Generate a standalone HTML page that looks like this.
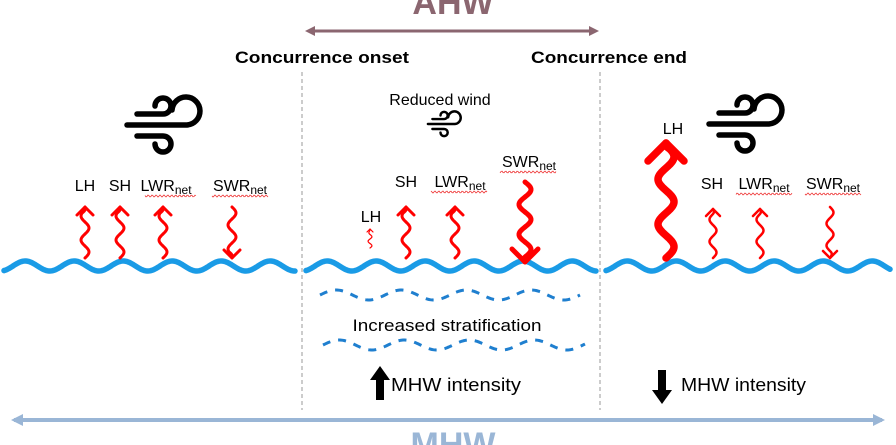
<!DOCTYPE html>
<html><head><meta charset="utf-8"><style>
html,body{margin:0;padding:0;background:#fff;width:896px;height:445px;overflow:hidden}
svg{display:block}
text{font-family:"Liberation Sans",sans-serif}
</style></head><body>
<svg id="s" width="896" height="445" viewBox="0 0 896 445" xmlns="http://www.w3.org/2000/svg">
<defs>
<marker id="ah" markerWidth="10" markerHeight="10" refX="7" refY="5" orient="auto" markerUnits="userSpaceOnUse"><path d="M0,0 L10,5 L0,10 z" fill="#8b6670"/></marker>
<marker id="ah2" markerWidth="12" markerHeight="12" refX="9" refY="6" orient="auto" markerUnits="userSpaceOnUse"><path d="M0,0 L12,6 L0,12 z" fill="#9ab6d6"/></marker>
<g id="wind"><path d="M-38,0 H22 A14,14 0 1 0 7,-15 M-28,-11 H-2 A8,8 0 1 0 -10,-19 M-28,11 H-2 A8,8 0 1 1 -10,19" fill="none" stroke="#000" stroke-width="5.5" stroke-linecap="round"/></g>
</defs>
<text x="453" y="14" text-anchor="middle" font-size="34" font-weight="bold" fill="#8b6670">AHW</text>
<line x1="308" y1="31" x2="596" y2="31" stroke="#8b6670" stroke-width="3" marker-end="url(#ah)"/>
<line x1="596" y1="31" x2="308" y2="31" stroke="#8b6670" stroke-width="3" marker-end="url(#ah)"/>
<text x="322" y="63" text-anchor="middle" font-size="17" font-weight="bold" textLength="174" lengthAdjust="spacingAndGlyphs">Concurrence onset</text>
<text x="609" y="63" text-anchor="middle" font-size="17" font-weight="bold" textLength="156" lengthAdjust="spacingAndGlyphs">Concurrence end</text>
<line x1="302" y1="72" x2="302" y2="410" stroke="#999" stroke-dasharray="4,3" stroke-width="1"/>
<line x1="600" y1="72" x2="600" y2="410" stroke="#999" stroke-dasharray="4,3" stroke-width="1"/>
<use href="#wind" transform="translate(165,125)"/>
<use href="#wind" transform="translate(747,124)"/>
<use href="#wind" transform="translate(445,124) scale(0.45)"/>
<text x="440" y="105" text-anchor="middle" font-size="16">Reduced wind</text>
<g font-size="16" text-anchor="middle">
<text x="85" y="191">LH</text><text x="120" y="191">SH</text>
<text x="166" y="191">LWR<tspan font-size="12" dy="3">net</tspan></text>
<text x="240" y="191">SWR<tspan font-size="12" dy="3">net</tspan></text>
<text x="371" y="222">LH</text><text x="406" y="187">SH</text>
<text x="460" y="187">LWR<tspan font-size="12" dy="3">net</tspan></text>
<text x="529" y="167">SWR<tspan font-size="12" dy="3">net</tspan></text>
<text x="673" y="134">LH</text><text x="712" y="189">SH</text>
<text x="764" y="189">LWR<tspan font-size="12" dy="3">net</tspan></text>
<text x="833" y="189">SWR<tspan font-size="12" dy="3">net</tspan></text>
</g>
<g id="dyn"></g>
<text x="447" y="331" text-anchor="middle" font-size="17" textLength="189" lengthAdjust="spacingAndGlyphs">Increased stratification</text>
<path d="M376,400 V380 H370 L380,366 L390,380 H384 V400 Z" fill="#000"/>
<text x="391" y="391" font-size="18" textLength="130" lengthAdjust="spacingAndGlyphs">MHW intensity</text>
<path d="M658,370 V390 H652 L662,404 L672,390 H666 V370 Z" fill="#000"/>
<text x="681" y="391" font-size="18" textLength="125" lengthAdjust="spacingAndGlyphs">MHW intensity</text>
<line x1="20" y1="420" x2="882" y2="420" stroke="#9ab6d6" stroke-width="4" marker-end="url(#ah2)"/>
<line x1="882" y1="420" x2="14" y2="420" stroke="#9ab6d6" stroke-width="4" marker-end="url(#ah2)"/>
<text x="453" y="456" text-anchor="middle" font-size="34" font-weight="bold" fill="#9ab6d6">MHW</text>
</svg>
<script>
var g=document.getElementById('dyn'),NS="http://www.w3.org/2000/svg";
function p(d,st){var e=document.createElementNS(NS,'path');e.setAttribute('d',d);for(var k in st)e.setAttribute(k,st[k]);g.appendChild(e);}
function wave(x0,x1,y,per,amp,st,ph){ph=ph||0;var d='';for(var x=x0;x<=x1;x+=1){var yy=y-amp*Math.sin((x-x0-ph)/per*2*Math.PI);d+=(x==x0?'M':'L')+x+','+yy.toFixed(2);}p(d,st);}
function warrow(x,y0,y1,amp,per,w,hs){var d='',dir=y1<y0?-1:1,L=Math.abs(y1-y0);for(var t=0;t<=L;t++){var yy=y0+dir*t;var xx=x+amp*Math.sin(t/per*2*Math.PI)*(t<L-6?1:(L-t)/6);d+=(t==0?'M':'L')+xx.toFixed(2)+','+yy;}
p(d,{fill:'none',stroke:'#f00','stroke-width':w,'stroke-linecap':'round'});
p('M'+(x-hs)+','+(y1-dir*hs)+' L'+x+','+y1+' L'+(x+hs)+','+(y1-dir*hs),{fill:'none',stroke:'#f00','stroke-width':w,'stroke-linecap':'round','stroke-linejoin':'round'});}
function squig(x0,x1,y){var d='';for(var x=x0;x<=x1;x+=1){d+=(x==x0?'M':'L')+x+','+(y+1*Math.sin(x*1.6)).toFixed(2);}p(d,{fill:'none',stroke:'#e33','stroke-width':0.8});}
var ws={fill:'none',stroke:'#1a9be6','stroke-width':5.5,'stroke-linecap':'round'};
wave(4,295,266,49,5,ws,9);wave(306,596,266,49,5,ws,9);wave(606,890,266,49,5,ws,9);
var ds={fill:'none',stroke:'#1f7fcf','stroke-width':3,'stroke-dasharray':'8,8'};
wave(320,580,295,65,5,ds);wave(323,585,345,65,5,ds);
[85,120,163].forEach(function(x){warrow(x,258,207,4,24,3,8);});
warrow(232,207,258,4,24,3,8);
warrow(370,248,229,2,9,1.2,3);
warrow(406,258,207,4,24,3,8);warrow(455,258,207,4,24,3,8);
warrow(525,182,262,6,30,5,13);
warrow(666,258,143,8,45,7.5,18);
warrow(713,258,209,3.5,22,2.5,7);warrow(760,258,209,3.5,22,2.5,7);warrow(830,207,258,3.5,22,2.5,7);
[[145,196,196],[212,268,196],[431,487,192],[500,556,172],[736,792,194],[805,861,194]].forEach(function(a){squig(a[0],a[1],a[2]);});
</script>
</body></html>
